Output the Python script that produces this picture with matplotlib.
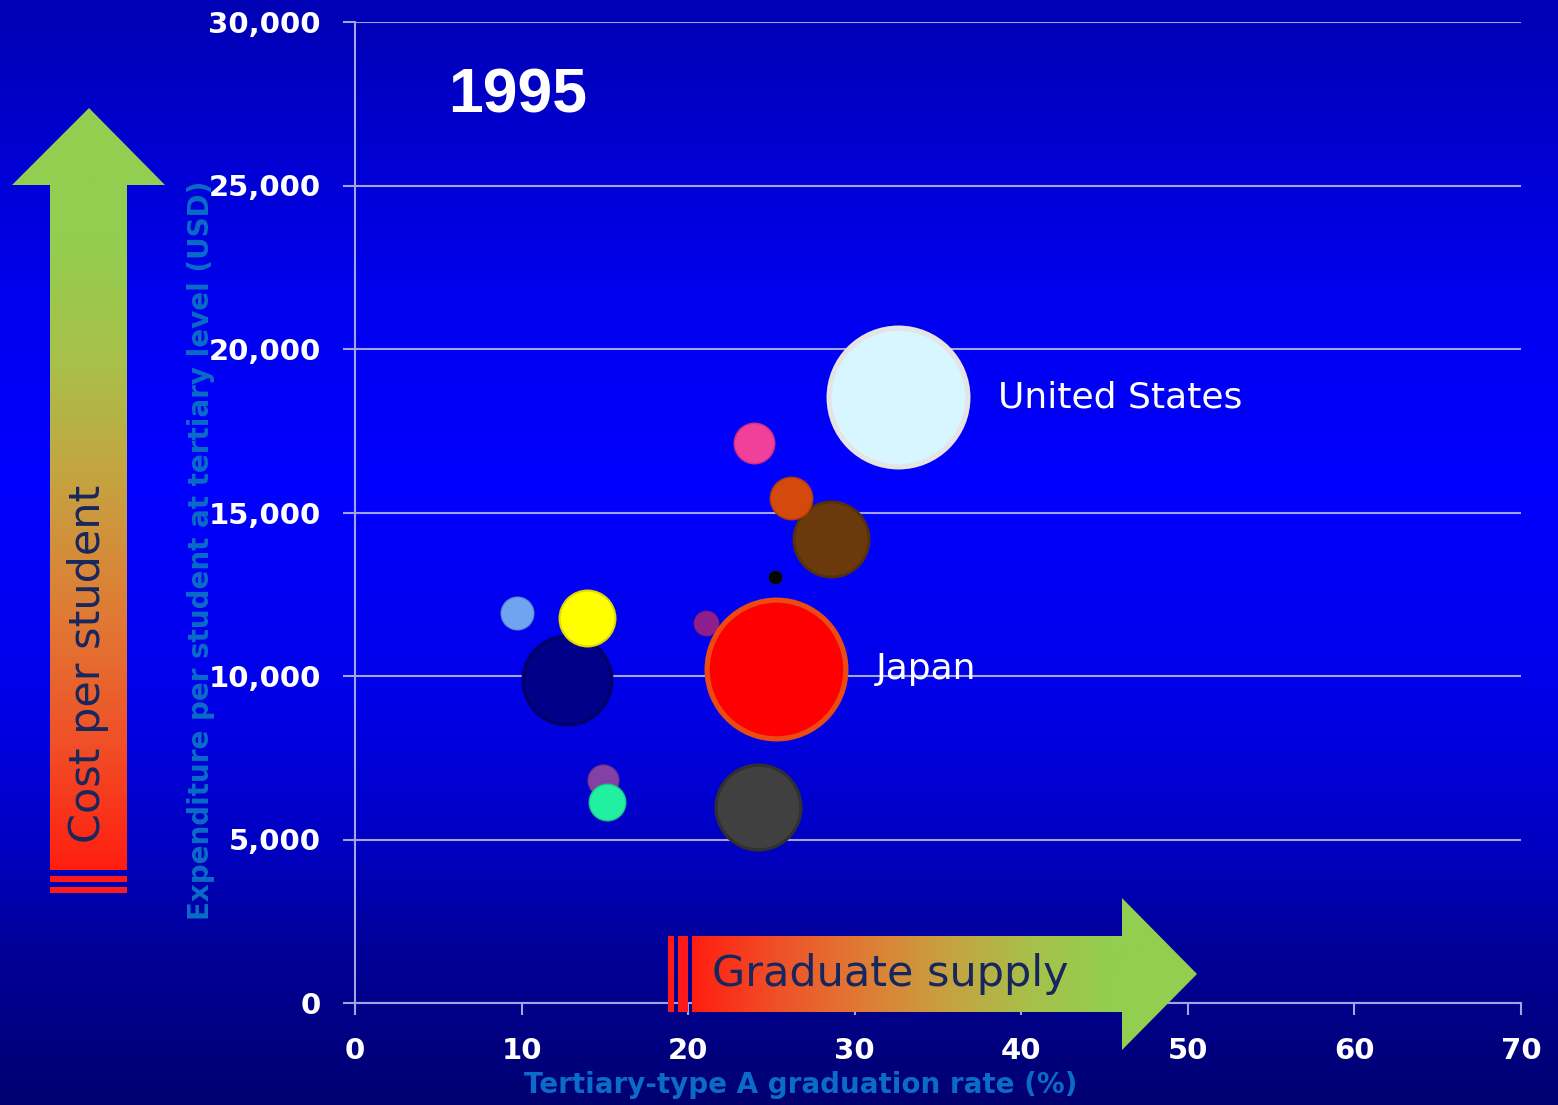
import matplotlib
matplotlib.use("Agg")
import matplotlib.pyplot as plt
import numpy as np
from matplotlib.colors import LinearSegmentedColormap, to_rgb
from matplotlib.patches import Polygon, Rectangle

# data (graduation rate %, expenditure per student USD, bubble weight)
labels = ["United States", "", "", "", "", "", "", "", "", "", "", "", "Japan"]
grad_rate = [32.6, 28.6, 26.2, 23.95, 25.2, 12.7, 9.7, 13.9, 21.1, 14.9, 15.1, 24.2, 25.3]
expenditure = [18530, 14190, 15440, 17120, 13030, 9880, 11930, 11770, 11620, 6820, 6150, 5990, 10210]
weight = [518, 152, 48, 44, 5, 212, 29, 84, 17, 26, 36, 194, 518]
colors = ["#d8f6ff", "#6b3a0c", "#d44a0c", "#f0409a", "#050505", "#000088", "#70a4f0",
          "#ffff00", "#8e1e8e", "#8440a4", "#20f0a0", "#404040", "#ff0000"]
rims = ["#e4e4e4", "#54300e", "#b83c0a", "#d03080", "#202020", "#00006a", "#5a88d0",
        "#e0d800", "#701670", "#6a3088", "#18c888", "#303030", "#ec4a10"]

x_ticks = [0, 10, 20, 30, 40, 50, 60, 70]
y_ticks = [0, 5000, 10000, 15000, 20000, 25000, 30000]
year = "1995"

W, H = 1558, 1105
fig = plt.figure(figsize=(W / 100, H / 100), dpi=100)

# background gradient
bg = fig.add_axes([0, 0, 1, 1])
bg.axis("off")
stops = [(0, "#0000b4"), (300, "#0000ee"), (480, "#0000ff"), (700, "#0000e8"),
         (850, "#0000c0"), (950, "#000098"), (1105, "#000070")]
ys = np.arange(H)
cols = np.array([to_rgb(c) for _, c in stops])
grad = np.stack([np.interp(ys, [p for p, _ in stops], cols[:, k]) for k in range(3)], axis=1)
bg.imshow(grad[:, None, :], extent=(0, W, H, 0), aspect="auto", zorder=0)
bg.set_xlim(0, W)
bg.set_ylim(H, 0)

# main plot
ax = fig.add_axes([355 / W, 1 - 1003 / H, (1521 - 355) / W, (1003 - 22) / H])
ax.set_facecolor("none")
ax.set_xlim(0, 70)
ax.set_ylim(0, 30000)
grid_c = "#a4a4e4"
for s in ["top", "right"]:
    ax.spines[s].set_visible(False)
for s in ["left", "bottom"]:
    ax.spines[s].set_color(grid_c)
    ax.spines[s].set_linewidth(1.5)
ax.set_xticks(x_ticks)
ax.set_yticks(y_ticks)
ax.set_xticklabels([str(v) for v in x_ticks])
ax.set_yticklabels([f"{v:,}" for v in y_ticks])
ax.tick_params(colors=grid_c, length=8.5, width=1.5, pad=16)
for t in ax.get_xticklabels() + ax.get_yticklabels():
    t.set_color("white")
    t.set_fontsize(21)
    t.set_fontweight("bold")
ax.yaxis.grid(True, color=grid_c, lw=1.5)
ax.set_axisbelow(True)

k = (2 * 0.72) ** 2 * 10
for i in range(len(grad_rate)):
    s = weight[i] * k
    z = 3 + i * 0.01
    ax.scatter(grad_rate[i], expenditure[i], s=s, color=rims[i], zorder=z, linewidths=0)
    ax.scatter(grad_rate[i], expenditure[i], s=s * 0.86, color=colors[i], zorder=z + 0.001, linewidths=0)
    if labels[i]:
        r = np.sqrt(s) / 2
        ax.annotate(labels[i], (grad_rate[i], expenditure[i]), xytext=(r + 20, 0),
                    textcoords="offset points", color="white", fontsize=26, va="center", ha="left")

# overlay: arrows and labels
ov = fig.add_axes([0, 0, 1, 1])
ov.set_facecolor("none")
ov.axis("off")
cmap = LinearSegmentedColormap.from_list("g", ["#ff1e10", "#f05028", "#e07a34", "#c8a040", "#a8c04a", "#92ce50", "#92d050"])

vpoly = Polygon([(50, 870), (50, 185), (12, 185), (89, 108), (165, 185), (127, 185), (127, 870)], closed=True,
                facecolor="none", edgecolor="none")
ov.add_patch(vpoly)
im = ov.imshow(np.linspace(0, 1, 256).reshape(-1, 1), cmap=cmap, origin="lower",
               extent=(12, 165, 870, 108), aspect="auto", zorder=2)
im.set_clip_path(vpoly)
for y0 in [876, 887]:
    ov.add_patch(Rectangle((50, y0), 77, 6, color="#ff1a1a", lw=0, zorder=2))

hpoly = Polygon([(692, 936), (1122, 936), (1122, 898), (1197, 974), (1122, 1050), (1122, 1012), (692, 1012)],
                closed=True, facecolor="none", edgecolor="none")
ov.add_patch(hpoly)
im2 = ov.imshow(np.linspace(0, 1, 256).reshape(1, -1), cmap=cmap, origin="lower",
                extent=(692, 1197, 1050, 898), aspect="auto", zorder=2)
im2.set_clip_path(hpoly)
for x0, w in [(668, 6), (678, 10)]:
    ov.add_patch(Rectangle((x0, 936), w, 76, color="#ff1a1a", lw=0, zorder=2))

ov.set_xlim(0, W)
ov.set_ylim(H, 0)

ov.text(712, 974, "Graduate supply", color="#17275e", fontsize=31, va="center", ha="left", zorder=3)
ov.text(88, 664, "Cost per student", color="#17275e", fontsize=31, rotation=90, va="center", ha="center", zorder=3)
ov.text(201, 550, "Expenditure per student at tertiary level (USD)", color="#0a6cc8", fontsize=20,
        fontweight="bold", rotation=90, va="center", ha="center", zorder=3)
ov.text(801, 1085, "Tertiary-type A graduation rate (%)", color="#0a6cc8", fontsize=20,
        fontweight="bold", va="center", ha="center", zorder=3)
ov.text(518, 96, year, color="white", fontsize=45, fontweight="bold", family="Liberation Sans",
        va="center", ha="center", zorder=3)

fig.savefig("out.png", dpi=100)
